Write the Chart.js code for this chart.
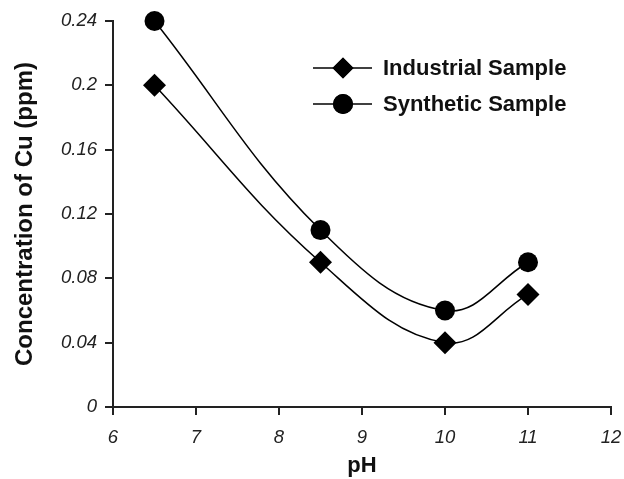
<!DOCTYPE html>
<html>
<head>
<meta charset="utf-8">
<script src="https://cdn.jsdelivr.net/npm/chart.js@4.4.1/dist/chart.umd.min.js"></script>
<style>
html,body{margin:0;padding:0;background:#fff;}
#wrap{width:624px;height:479px;position:relative;}
</style>
</head>
<body>
<div id="wrap"><canvas id="c" width="624" height="479"></canvas></div>
<script>
// ---- data ----
const seriesNames = ['Industrial Sample', 'Synthetic Sample'];
const phValues = [6.5, 8.5, 10, 11];
const industrial = [0.20, 0.09, 0.04, 0.07];
const synthetic = [0.24, 0.11, 0.06, 0.09];
const xTicks = [6, 7, 8, 9, 10, 11, 12];
const xTickLabels = ['6', '7', '8', '9', '10', '11', '12'];
const yTicks = [0, 0.04, 0.08, 0.12, 0.16, 0.20, 0.24];
const yTickLabels = ['0', '0.04', '0.08', '0.12', '0.16', '0.2', '0.24'];
const xTitle = 'pH';
const yTitle = 'Concentration of Cu (ppm)';

const FONT = "'Liberation Sans', Arial, sans-serif";
const styles = [
  {pointStyle: 'rectRot', radius: 11.5},
  {pointStyle: 'circle', radius: 10}
];

function toXY(xs, ys){ return xs.map((x,i)=>({x:x, y:ys[i]})); }

const legendPlugin = {
  id: 'lineLegend',
  afterDraw(chart){
    const ctx = chart.ctx;
    const x0 = 313, x1 = 372, xm = 343, xt = 383;
    const ys = [68, 104];
    chart.data.datasets.forEach((ds, i) => {
      const y = ys[i];
      ctx.save();
      ctx.strokeStyle = '#000';
      ctx.lineWidth = 1.5;
      ctx.beginPath(); ctx.moveTo(x0, y); ctx.lineTo(x1, y); ctx.stroke();
      ctx.fillStyle = '#000';
      Chart.helpers.drawPoint(ctx, {pointStyle: ds.pointStyle, radius: ds.pointStyle === 'circle' ? 10 : 10.5, rotation: 0, borderWidth: 0}, xm, y);
      ctx.fill();
      ctx.fillStyle = '#111';
      ctx.font = 'bold 22px ' + FONT;
      ctx.textAlign = 'left';
      ctx.textBaseline = 'middle';
      ctx.fillText(ds.label, xt, y + 1);
      ctx.restore();
    });
  }
};

new Chart(document.getElementById('c'), {
  type: 'line',
  data: {
    datasets: [
      {
        label: seriesNames[0],
        data: toXY(phValues, industrial),
        borderColor: '#000', backgroundColor: '#000',
        borderWidth: 1.5, tension: 0.4, clip: false,
        pointStyle: styles[0].pointStyle, pointRadius: styles[0].radius,
        pointBackgroundColor: '#000', pointBorderColor: '#000', pointBorderWidth: 0
      },
      {
        label: seriesNames[1],
        data: toXY(phValues, synthetic),
        borderColor: '#000', backgroundColor: '#000',
        borderWidth: 1.5, tension: 0.4, clip: false,
        pointStyle: styles[1].pointStyle, pointRadius: styles[1].radius,
        pointBackgroundColor: '#000', pointBorderColor: '#000', pointBorderWidth: 0
      }
    ]
  },
  options: {
    responsive: false,
    animation: false,
    layout: {padding: {left: 0, right: 13, top: 21, bottom: 0}},
    plugins: {legend: {display: false}, tooltip: {enabled: false}},
    scales: {
      x: {
        type: 'linear', min: 6, max: 12,
        afterBuildTicks(s){ s.ticks = xTicks.map(v => ({value: v})); },
        afterFit(s){ s.height = 72; s.paddingRight = 0; s.paddingLeft = 0; },
        border: {display: true, color: '#222', width: 2},
        grid: {display: true, drawOnChartArea: false, drawTicks: true, tickLength: 8, color: '#222', lineWidth: 2},
        ticks: {
          callback: (v, i) => xTickLabels[i],
          color: '#222', padding: 12,
          font: {family: FONT, size: 18.5, style: 'italic'}, maxRotation: 0
        },
        title: {display: true, text: xTitle, color: '#111', font: {family: FONT, size: 22, weight: 'bold'}, padding: {top: 2, bottom: 0}}
      },
      y: {
        type: 'linear', min: 0, max: 0.24,
        afterBuildTicks(s){ s.ticks = yTicks.map(v => ({value: v})); },
        afterFit(s){ s.width = 113; },
        border: {display: true, color: '#222', width: 2},
        grid: {display: true, drawOnChartArea: false, drawTicks: true, tickLength: 8, color: '#222', lineWidth: 2},
        ticks: {
          callback: (v, i) => yTickLabels[i],
          color: '#222', padding: 8,
          font: {family: FONT, size: 18.5, style: 'italic'}
        },
        title: {display: true, text: yTitle, color: '#111', font: {family: FONT, size: 24, weight: 'bold'}, padding: {top: 11, bottom: 0}}
      }
    }
  },
  plugins: [legendPlugin]
});
</script>
</body>
</html>
